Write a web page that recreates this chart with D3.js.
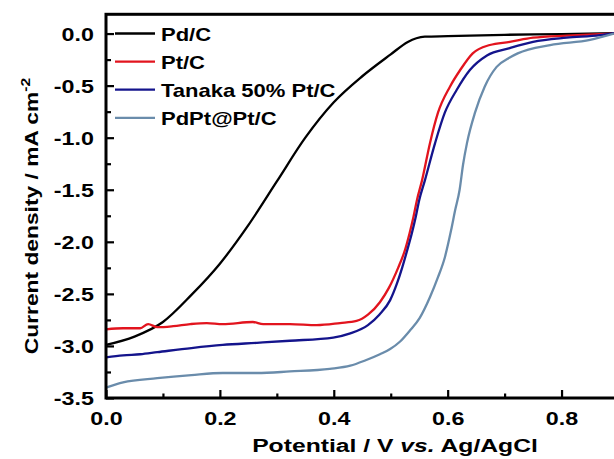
<!DOCTYPE html>
<html>
<head>
<meta charset="utf-8">
<script src="https://cdn.jsdelivr.net/npm/d3@7"></script>
<style>
  html, body { margin: 0; padding: 0; background: #fff; overflow: hidden; }
  svg { display: block; }
  text { font-family: "Liberation Sans", Arial, sans-serif; font-weight: bold; fill: #000; }
</style>
</head>
<body>
<svg id="chart" width="614" height="459"></svg>
<script>
// Linear sweep voltammetry curves (potential in V vs. Ag/AgCl, current density in mA cm-2)
const seriesNames = ["Pd/C", "Pt/C", "Tanaka 50% Pt/C", "PdPt@Pt/C"];
const seriesColors = ["#000000", "#e2141e", "#14148c", "#6a8cab"];

const potentialPdC = [0.0, 0.05, 0.1, 0.15, 0.2, 0.25, 0.3, 0.35, 0.4, 0.45, 0.5, 0.53, 0.545, 0.56, 0.6, 0.7, 0.8, 0.892];
const currentPdC   = [-2.99, -2.91, -2.77, -2.51, -2.21, -1.84, -1.42, -1.00, -0.66, -0.41, -0.20, -0.08, -0.045, -0.03, -0.025, -0.012, -0.005, 0.005];

const potentialPtC = [0.0, 0.03, 0.06, 0.074, 0.09, 0.118, 0.148, 0.177, 0.205, 0.258, 0.276, 0.323, 0.37, 0.411, 0.44, 0.46, 0.481, 0.497, 0.513, 0.525, 0.533, 0.54, 0.546, 0.555, 0.569, 0.583, 0.604, 0.622, 0.644, 0.674, 0.709, 0.75, 0.809, 0.867, 0.892];
const currentPtC   = [-2.84, -2.83, -2.83, -2.79, -2.82, -2.81, -2.79, -2.78, -2.79, -2.77, -2.79, -2.79, -2.80, -2.78, -2.76, -2.70, -2.58, -2.44, -2.25, -2.08, -1.92, -1.76, -1.60, -1.41, -1.05, -0.76, -0.51, -0.35, -0.19, -0.11, -0.08, -0.04, -0.02, -0.005, 0.0];

const potentialTanaka = [0.0, 0.03, 0.06, 0.09, 0.15, 0.205, 0.265, 0.323, 0.399, 0.429, 0.46, 0.48, 0.499, 0.511, 0.52, 0.529, 0.537, 0.544, 0.55, 0.56, 0.578, 0.595, 0.616, 0.639, 0.669, 0.709, 0.75, 0.809, 0.867, 0.892];
const currentTanaka   = [-3.11, -3.09, -3.08, -3.06, -3.02, -2.99, -2.97, -2.95, -2.92, -2.88, -2.80, -2.70, -2.56, -2.40, -2.25, -2.08, -1.92, -1.76, -1.60, -1.41, -1.05, -0.76, -0.54, -0.35, -0.21, -0.14, -0.08, -0.04, -0.015, 0.005];

const potentialPdPt = [0.0, 0.03, 0.09, 0.15, 0.205, 0.265, 0.323, 0.393, 0.429, 0.455, 0.481, 0.499, 0.516, 0.534, 0.551, 0.569, 0.583, 0.595, 0.606, 0.613, 0.621, 0.627, 0.634, 0.648, 0.665, 0.686, 0.709, 0.723, 0.78, 0.85, 0.892];
const currentPdPt   = [-3.40, -3.35, -3.31, -3.28, -3.26, -3.26, -3.245, -3.22, -3.19, -3.14, -3.08, -3.03, -2.96, -2.85, -2.73, -2.53, -2.34, -2.15, -1.89, -1.70, -1.50, -1.26, -1.05, -0.76, -0.51, -0.32, -0.23, -0.19, -0.11, -0.06, 0.0];

const xMajorTicks = [0.0, 0.2, 0.4, 0.6, 0.8];
const xMinorTicks = [0.1, 0.3, 0.5, 0.7];
const yMajorTicks = [0.0, -0.5, -1.0, -1.5, -2.0, -2.5, -3.0, -3.5];
const yMinorTicks = [-0.25, -0.75, -1.25, -1.75, -2.25, -2.75, -3.25];

const series = [
  { x: potentialPdC, y: currentPdC },
  { x: potentialPtC, y: currentPtC },
  { x: potentialTanaka, y: currentTanaka },
  { x: potentialPdPt, y: currentPdPt }
];

const svg = d3.select("#chart");
const plotLeft = 106, plotRight = 618.5, plotTop = 14.3, plotBottom = 398;

const x = d3.scaleLinear().domain([0, 0.9]).range([plotLeft, plotRight]);
const y = d3.scaleLinear().domain([-3.5, 0.185]).range([plotBottom, plotTop]);

const fmt = d => d.toFixed(1);
const tickStretch = 1.26;

// curves
const line = d3.line().x(d => x(d[0])).y(d => y(d[1])).curve(d3.curveMonotoneX);
svg.append("g").selectAll("path")
  .data(series)
  .join("path")
  .attr("d", s => line(s.x.map((v, i) => [v, s.y[i]])))
  .attr("fill", "none")
  .attr("stroke", (s, i) => seriesColors[i])
  .attr("stroke-width", 2.3)
  .attr("stroke-linejoin", "round");

// frame
svg.append("rect")
  .attr("x", plotLeft).attr("y", plotTop)
  .attr("width", plotRight - plotLeft).attr("height", plotBottom - plotTop)
  .attr("fill", "none").attr("stroke", "#000").attr("stroke-width", 3);

// axes with inward ticks
const xAxis = svg.append("g").attr("transform", `translate(0,${plotBottom})`)
  .call(d3.axisBottom(x).tickValues(xMajorTicks).tickFormat(fmt).tickSizeInner(-8).tickSizeOuter(0));
const xMinor = svg.append("g").attr("transform", `translate(0,${plotBottom})`)
  .call(d3.axisBottom(x).tickValues(xMinorTicks).tickFormat("").tickSizeInner(-4.5).tickSizeOuter(0));
const yAxis = svg.append("g").attr("transform", `translate(${plotLeft},0)`)
  .call(d3.axisLeft(y).tickValues(yMajorTicks).tickFormat(fmt).tickSizeInner(-8).tickSizeOuter(0));
const yMinor = svg.append("g").attr("transform", `translate(${plotLeft},0)`)
  .call(d3.axisLeft(y).tickValues(yMinorTicks).tickFormat("").tickSizeInner(-5).tickSizeOuter(0));

[xAxis, xMinor, yAxis, yMinor].forEach(g => {
  g.select(".domain").remove();
  g.selectAll(".tick line").attr("stroke", "#000").attr("stroke-width", 2.2);
});

xAxis.selectAll(".tick text")
  .attr("y", 27.5).attr("dy", 0)
  .attr("font-size", 18.5)
  .attr("transform", `scale(${tickStretch},1)`);

yAxis.selectAll(".tick text")
  .attr("x", -12 / tickStretch)
  .attr("dy", "0.36em")
  .attr("font-size", 18.5)
  .attr("transform", `scale(${tickStretch},1)`);

// axis titles
const xTitle = svg.append("text")
  .attr("transform", "translate(395,452) scale(1.3,1)")
  .attr("text-anchor", "middle")
  .attr("font-size", 19);
xTitle.append("tspan").text("Potential / V ");
xTitle.append("tspan").attr("font-style", "italic").text("vs.");
xTitle.append("tspan").text(" Ag/AgCl");

const yTitle = svg.append("text")
  .attr("transform", "translate(38,216) rotate(-90) scale(1.2,1)")
  .attr("text-anchor", "middle")
  .attr("font-size", 19);
yTitle.append("tspan").text("Current density / mA cm");
yTitle.append("tspan").attr("font-size", 13).attr("dy", -8).text("-2");

// legend
const legend = svg.append("g");
const legendRows = legend.selectAll("g")
  .data(seriesNames)
  .join("g")
  .attr("transform", (d, i) => `translate(0,${33.5 + i * 28.1})`);
legendRows.append("line")
  .attr("x1", 115).attr("x2", 155)
  .attr("stroke", (d, i) => seriesColors[i])
  .attr("stroke-width", 2.3);
legendRows.append("text")
  .attr("transform", "translate(161,7) scale(1.19,1)")
  .attr("font-size", 18.5)
  .text(d => d);
</script>
</body>
</html>
